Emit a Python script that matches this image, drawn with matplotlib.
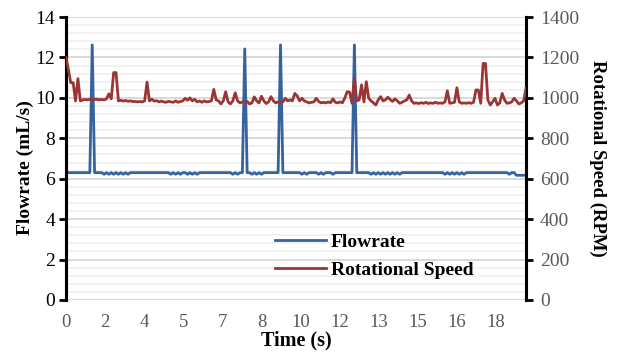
import matplotlib
matplotlib.use("Agg")
import matplotlib.pyplot as plt
import numpy as np
from matplotlib.ticker import MultipleLocator

plt.rcParams['font.family'] = ['Liberation Serif', 'DejaVu Serif']

# ---------------- data (one value per sample) ----------------
flowrate = [
    6.3, 6.3, 6.3, 6.3, 6.3, 6.3, 6.3, 6.3, 6.3, 6.3,
    6.3, 12.62, 6.3, 6.3, 6.3, 6.3, 6.22, 6.3, 6.22, 6.3,
    6.22, 6.3, 6.22, 6.3, 6.22, 6.3, 6.22, 6.3, 6.3, 6.3,
    6.3, 6.3, 6.3, 6.3, 6.3, 6.3, 6.3, 6.3, 6.3, 6.3,
    6.3, 6.3, 6.3, 6.3, 6.22, 6.3, 6.22, 6.3, 6.22, 6.3,
    6.3, 6.22, 6.3, 6.22, 6.3, 6.22, 6.3, 6.3, 6.3, 6.3,
    6.3, 6.3, 6.3, 6.3, 6.3, 6.3, 6.3, 6.3, 6.3, 6.3,
    6.22, 6.3, 6.22, 6.3, 6.3, 12.42, 6.3, 6.3, 6.22, 6.3,
    6.22, 6.3, 6.22, 6.3, 6.3, 6.3, 6.3, 6.3, 6.3, 6.3,
    12.62, 6.3, 6.3, 6.3, 6.3, 6.3, 6.3, 6.3, 6.3, 6.22,
    6.3, 6.22, 6.3, 6.3, 6.3, 6.3, 6.22, 6.3, 6.22, 6.3,
    6.3, 6.3, 6.22, 6.3, 6.3, 6.3, 6.3, 6.3, 6.3, 6.3,
    6.3, 12.62, 6.3, 6.3, 6.3, 6.3, 6.3, 6.3, 6.22, 6.3,
    6.22, 6.3, 6.22, 6.3, 6.22, 6.3, 6.22, 6.3, 6.22, 6.3,
    6.22, 6.3, 6.3, 6.3, 6.3, 6.3, 6.3, 6.3, 6.3, 6.3,
    6.3, 6.3, 6.3, 6.3, 6.3, 6.3, 6.3, 6.3, 6.3, 6.22,
    6.3, 6.22, 6.3, 6.22, 6.3, 6.22, 6.3, 6.22, 6.3, 6.3,
    6.3, 6.3, 6.3, 6.3, 6.3, 6.3, 6.3, 6.3, 6.3, 6.3,
    6.3, 6.3, 6.3, 6.3, 6.3, 6.3, 6.22, 6.3, 6.3, 6.17,
    6.17, 6.17, 6.17, 6.17,
]

rot_speed = [
    1200, 1140, 1075, 1075, 985, 1095, 985, 990, 992, 990,
    993, 990, 992, 993, 990, 992, 990, 995, 1020, 995,
    1125, 1125, 985, 988, 984, 987, 983, 985, 982, 982,
    980, 982, 980, 985, 1078, 985, 993, 984, 986, 980,
    984, 980, 978, 983, 980, 978, 985, 978, 982, 985,
    998, 988, 1000, 985, 993, 980, 985, 978, 985, 980,
    982, 985, 1042, 990, 985, 970, 985, 1030, 980, 970,
    985, 1025, 985, 975, 980, 978, 982, 970, 975, 1005,
    985, 975, 1008, 985, 972, 980, 1006, 985, 975, 980,
    978, 980, 998, 985, 990, 985, 1022, 1010, 985, 998,
    985, 980, 975, 978, 980, 998, 982, 975, 978, 975,
    980, 976, 995, 978, 975, 980, 976, 1000, 1031, 1028,
    973, 1097, 985, 990, 1064, 980, 1080, 998, 985, 975,
    965, 990, 1006, 985, 990, 1003, 992, 982, 995, 985,
    973, 978, 985, 990, 1014, 985, 973, 975, 972, 976,
    973, 978, 972, 975, 973, 978, 973, 975, 973, 980,
    1035, 973, 975, 978, 1050, 980, 973, 975, 973, 976,
    973, 978, 1039, 1039, 973, 1170, 1170, 990, 965, 980,
    998, 965, 975, 1022, 990, 973, 975, 980, 998, 985,
    970, 975, 985, 1047,
]

time_labels = ['0', '2', '4', '5', '7', '8', '10', '12', '13', '15', '16', '18']

series_names = ['Flowrate', 'Rotational Speed']
x_title = 'Time (s)'
y1_title = 'Flowrate (mL/s)'
y2_title = 'Rotational Speed (RPM)'

# ---------------- styling ----------------
BLUE = '#34639e'
RED = '#993634'
GRAY_TXT = '#595959'

fig = plt.figure(figsize=(6.21, 3.56), dpi=100)
ax = fig.add_axes([66 / 621, 56 / 356, 460 / 621, 283 / 356])
ax2 = ax.twinx()

n = len(flowrate)
x = np.arange(n)

ax.set_xlim(0, n - 1)
ax.set_ylim(0, 14)
ax2.set_ylim(0, 1400)

ax.yaxis.set_major_locator(MultipleLocator(2))
ax.yaxis.set_minor_locator(MultipleLocator(0.4))
ax2.yaxis.set_major_locator(MultipleLocator(200))

ax.grid(which='major', axis='y', color='#d9d9d9', linewidth=1.4, zorder=0)
ax.grid(which='minor', axis='y', color='#efefef', linewidth=1.1, zorder=0)
ax.set_axisbelow(True)

l1, = ax.plot(x, flowrate, color=BLUE, linewidth=2.0, label=series_names[0], zorder=3)
l2, = ax2.plot(x, rot_speed, color=RED, linewidth=2.0, label=series_names[1], zorder=3)

# x ticks: category labels every ~16.4 samples
tick_step = (n - 1) * 39.1 / 460
ax.set_xticks([i * tick_step for i in range(len(time_labels))])
ax.set_xticklabels(time_labels)
ax.tick_params(axis='x', length=0, labelsize=13.5, labelcolor=GRAY_TXT, pad=10)

ax.tick_params(axis='y', which='major', direction='out', length=5, width=2,
               color='black', labelsize=14, labelcolor='black', pad=3)
ax.tick_params(axis='y', which='minor', length=0)
ax2.tick_params(axis='y', which='major', direction='out', length=5, width=2,
                color='black', labelsize=14, labelcolor=GRAY_TXT, pad=5)

for a in (ax, ax2):
    a.spines['top'].set_visible(False)
    a.spines['bottom'].set_visible(False)
    a.spines['left'].set_linewidth(2.2)
    a.spines['right'].set_linewidth(2.2)
    a.spines['left'].set_color('black')
    a.spines['right'].set_color('black')
ax.axhline(0, color='#d9d9d9', linewidth=1.6, zorder=1)

ax.set_xlabel(x_title, fontsize=14.5, fontweight='bold', labelpad=0)
ax.set_ylabel(y1_title, fontsize=14, fontweight='bold', va='center')
ax.yaxis.set_label_coords(-41 / 460, (300 - 168) / 283)
ax2.set_ylabel(y2_title, fontsize=13.5, fontweight='bold', rotation=-90, va='center')
ax2.yaxis.set_label_coords(1 + 72 / 460, (300 - 158) / 283)

leg = ax.legend(handles=[l1, l2], loc='lower left', bbox_to_anchor=(0.417, 0.013),
                frameon=False, prop={'weight': 'bold', 'size': 14},
                handlelength=2.6, handletextpad=0.25, labelspacing=0.55)

fig.savefig('out.png', dpi=100)
